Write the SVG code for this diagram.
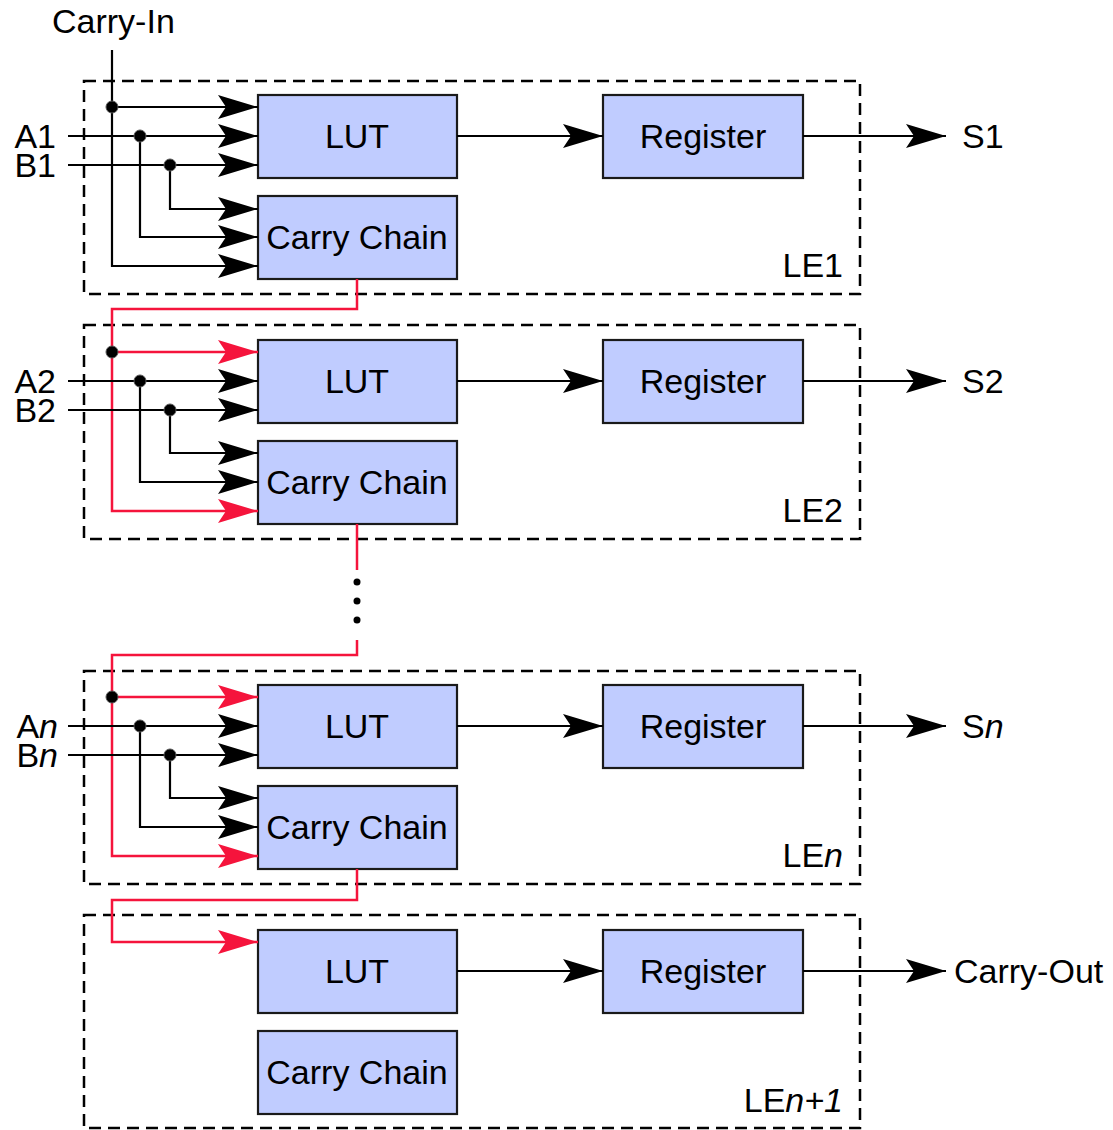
<svg xmlns="http://www.w3.org/2000/svg" width="1113" height="1130" viewBox="0 0 1113 1130">
<style>
text{font-family:"Liberation Sans",Arial,sans-serif;font-size:34px;fill:#000}
.c{text-anchor:middle}
.e{text-anchor:end}
.box{fill:#c0ccff;stroke:#1a1a1a;stroke-width:2.2}
.le{fill:none;stroke:#000;stroke-width:2.5;stroke-dasharray:12 7}
.w{fill:none;stroke:#000;stroke-width:2.2}
.r{fill:none;stroke:#f5143c;stroke-width:2.5}
.a{marker-end:url(#ab)}
.ar{marker-end:url(#ar)}
i,.it{font-style:italic}
</style>
<defs>
<marker id="ab" viewBox="0 0 40 24" refX="40" refY="12" markerWidth="40" markerHeight="24" markerUnits="userSpaceOnUse" orient="auto"><path d="M0,0 L40,12 L0,24 L8,12 Z" fill="#000"/></marker>
<marker id="ar" viewBox="0 0 40 24" refX="40" refY="12" markerWidth="40" markerHeight="24" markerUnits="userSpaceOnUse" orient="auto"><path d="M0,0 L40,12 L0,24 L8,12 Z" fill="#f5143c"/></marker>
</defs>

<g id="LE1">
<rect class="le" x="84" y="81" width="776" height="213"/>
<text class="e" x="843" y="277">LE1</text>
</g>
<g id="LE2">
<rect class="le" x="84" y="325" width="776" height="214"/>
<text class="e" x="843" y="522">LE2</text>
</g>
<g id="LEn">
<rect class="le" x="84" y="671" width="776" height="213"/>
<text class="e" x="843" y="867">LE<tspan class="it">n</tspan></text>
</g>
<g id="LEn1">
<rect class="le" x="84" y="915" width="776" height="213"/>
<text class="e" x="843" y="1112">LE<tspan class="it">n+1</tspan></text>
</g>

<g id="LUT1"><rect class="box" x="258" y="95" width="199" height="83"/><text class="c" x="357" y="148">LUT</text></g>
<g id="REG1"><rect class="box" x="603" y="95" width="200" height="83"/><text class="c" x="703" y="148">Register</text></g>
<g id="CC1"><rect class="box" x="258" y="196" width="199" height="83"/><text class="c" x="357" y="249">Carry Chain</text></g>

<g id="LUT2"><rect class="box" x="258" y="340" width="199" height="83"/><text class="c" x="357" y="393">LUT</text></g>
<g id="REG2"><rect class="box" x="603" y="340" width="200" height="83"/><text class="c" x="703" y="393">Register</text></g>
<g id="CC2"><rect class="box" x="258" y="441" width="199" height="83"/><text class="c" x="357" y="494">Carry Chain</text></g>

<g id="LUTn"><rect class="box" x="258" y="685" width="199" height="83"/><text class="c" x="357" y="738">LUT</text></g>
<g id="REGn"><rect class="box" x="603" y="685" width="200" height="83"/><text class="c" x="703" y="738">Register</text></g>
<g id="CCn"><rect class="box" x="258" y="786" width="199" height="83"/><text class="c" x="357" y="839">Carry Chain</text></g>

<g id="LUTn1"><rect class="box" x="258" y="930" width="199" height="83"/><text class="c" x="357" y="983">LUT</text></g>
<g id="REGn1"><rect class="box" x="603" y="930" width="200" height="83"/><text class="c" x="703" y="983">Register</text></g>
<g id="CCn1"><rect class="box" x="258" y="1031" width="199" height="83"/><text class="c" x="357" y="1084">Carry Chain</text></g>

<g id="labels">
<text x="52" y="33">Carry-In</text>
<text class="e" x="56" y="148">A1</text>
<text class="e" x="56" y="177">B1</text>
<text class="e" x="56" y="393">A2</text>
<text class="e" x="56" y="422">B2</text>
<text class="e" x="58" y="738">A<tspan class="it">n</tspan></text>
<text class="e" x="58" y="767">B<tspan class="it">n</tspan></text>
<text x="962" y="148">S1</text>
<text x="962" y="393">S2</text>
<text x="962" y="738">S<tspan class="it">n</tspan></text>
<text x="954" y="983">Carry-Out</text>
</g>

<g id="connectors">
<!-- LE1 -->
<path class="w a" d="M112,50 V266 H258"/>
<path class="w a" d="M112,107 H258"/>
<path class="w a" d="M68,136 H258"/>
<path class="w a" d="M140,136 V237 H258"/>
<path class="w a" d="M68,165 H258"/>
<path class="w a" d="M170,165 V209 H258"/>
<path class="w a" d="M457,136 H603"/>
<path class="w a" d="M803,136 H946"/>
<!-- LE2 -->
<path class="r ar" d="M357,279 V309 H112 V511 H258"/>
<path class="r ar" d="M112,352 H258"/>
<path class="w a" d="M68,381 H258"/>
<path class="w a" d="M140,381 V482 H258"/>
<path class="w a" d="M68,410 H258"/>
<path class="w a" d="M170,410 V453 H258"/>
<path class="w a" d="M457,381 H603"/>
<path class="w a" d="M803,381 H946"/>
<!-- gap -->
<path class="r" d="M357,524 V570"/>
<circle cx="357" cy="582" r="3.5" fill="#000"/>
<circle cx="357" cy="601" r="3.5" fill="#000"/>
<circle cx="357" cy="620" r="3.5" fill="#000"/>
<!-- LEn -->
<path class="r ar" d="M357,640 V655 H112 V856 H258"/>
<path class="r ar" d="M112,697 H258"/>
<path class="w a" d="M68,726 H258"/>
<path class="w a" d="M140,726 V827 H258"/>
<path class="w a" d="M68,755 H258"/>
<path class="w a" d="M170,755 V798 H258"/>
<path class="w a" d="M457,726 H603"/>
<path class="w a" d="M803,726 H946"/>
<!-- LEn+1 -->
<path class="r ar" d="M357,869 V900 H112 V942 H258"/>
<path class="w a" d="M457,971 H603"/>
<path class="w a" d="M803,971 H946"/>
<!-- junction dots -->
<g fill="#000" stroke="#555" stroke-width="1">
<circle cx="112" cy="107" r="6"/>
<circle cx="140" cy="136" r="6"/>
<circle cx="170" cy="165" r="6"/>
<circle cx="112" cy="352" r="6"/>
<circle cx="140" cy="381" r="6"/>
<circle cx="170" cy="410" r="6"/>
<circle cx="112" cy="697" r="6"/>
<circle cx="140" cy="726" r="6"/>
<circle cx="170" cy="755" r="6"/>
</g>
</g>
</svg>
